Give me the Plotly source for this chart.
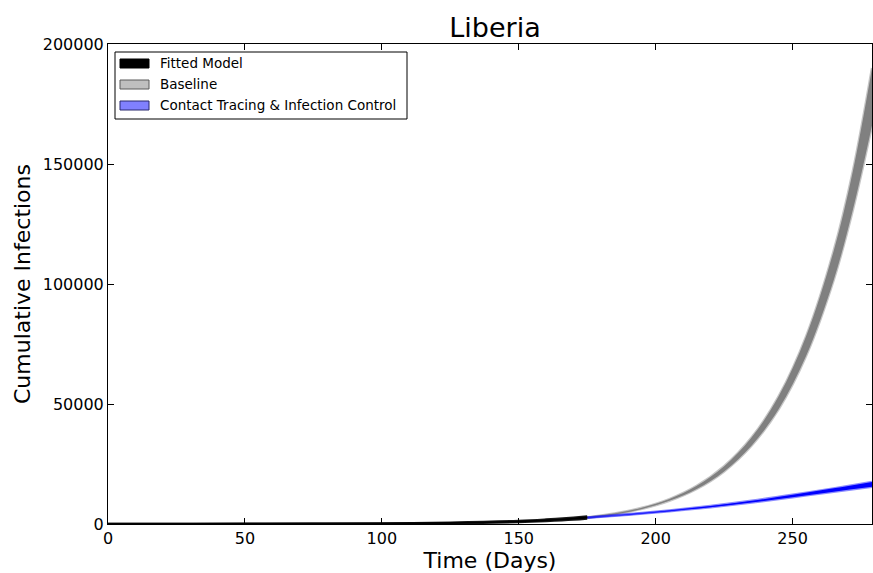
import plotly.graph_objects as go

# ---- data ----
fit_days = [0, 25, 50, 75, 100, 125, 150, 160, 170, 175]
fit_lo = [0, 5, 20, 55, 130, 320, 820, 1250, 1850, 2300]
fit_hi = [10, 25, 55, 115, 240, 540, 1250, 1850, 2650, 3100]

base_days = [175, 185, 195, 205, 215, 225, 235, 245, 255, 265, 272, 279]
base_lo = [2650, 4100, 6300, 9650, 14600, 21900, 32600, 48000, 70200, 101600, 130800, 166000]
base_hi = [2750, 4350, 6750, 10400, 15900, 24100, 36000, 53400, 78400, 113800, 147000, 190000]

ct_days = [175, 190, 205, 220, 235, 250, 265, 279]
ct_lo = [2650, 3900, 5350, 7000, 8950, 11150, 13450, 15500]
ct_hi = [2750, 4100, 5650, 7500, 9650, 12150, 14850, 17500]

x_ticks = [0, 50, 100, 150, 200, 250]
y_ticks = [0, 50000, 100000, 150000, 200000]

legend_names = ["Fitted Model", "Baseline", "Contact Tracing & Infection Control"]
legend_fill = ["rgb(0,0,0)", "rgb(191,191,191)", "rgb(128,128,255)"]
legend_edge = ["rgb(0,0,0)", "rgb(90,90,90)", "rgb(40,40,110)"]

FONT = "DejaVu Sans"

fig = go.Figure()


def add_band(days, lo, hi, core, edge):
    fig.add_trace(go.Scatter(x=days, y=lo, mode="lines", line=dict(color=edge, width=2.5, shape="spline"),
                             showlegend=False, hoverinfo="skip"))
    fig.add_trace(go.Scatter(x=days, y=hi, mode="lines", line=dict(color=edge, width=2.5, shape="spline"),
                             fill="tonexty", fillcolor=core, showlegend=False, hoverinfo="skip"))


add_band(base_days, base_lo, base_hi, "rgb(128,128,128)", "rgba(128,128,128,0.45)")
add_band(ct_days, ct_lo, ct_hi, "rgb(0,0,255)", "rgba(0,0,255,0.45)")
add_band(fit_days, fit_lo, fit_hi, "rgb(0,0,0)", "rgba(0,0,0,0.9)")

# ---- manual legend (matplotlib-like box) ----
PW, PH, L, B = 764.0, 480.0, 108.0, 524.0


def px(xp):
    return (xp - L) / PW


def py(yp):
    return (B - yp) / PH


shapes = [dict(type="rect", xref="paper", yref="paper", x0=px(115), x1=px(407), y0=py(119), y1=py(52),
               line=dict(color="black", width=1), fillcolor="white", layer="above")]
annotations = []
for i, (name, fc, lc) in enumerate(zip(legend_names, legend_fill, legend_edge)):
    yc = 63 + 21 * i
    shapes.append(dict(type="rect", xref="paper", yref="paper", x0=px(120), x1=px(149),
                       y0=py(yc + 5), y1=py(yc - 4), line=dict(color=lc, width=1), fillcolor=fc, layer="above"))
    annotations.append(dict(xref="paper", yref="paper", x=px(158), y=py(yc), text=name, showarrow=False,
                            xanchor="left", yanchor="middle",
                            font=dict(family=FONT, size=13.5, color="black")))

axis_common = dict(
    showline=True, linecolor="black", linewidth=1, mirror="allticks",
    ticks="inside", ticklen=6, tickcolor="black", tickwidth=1,
    showgrid=False, zeroline=False,
    tickfont=dict(family=FONT, size=16, color="black"),
)

fig.update_layout(
    width=873, height=573,
    margin=dict(l=108, r=1, t=44, b=49),
    plot_bgcolor="white", paper_bgcolor="white",
    font=dict(family=FONT, color="black"),
    title=dict(text="Liberia", x=0.5065, xref="paper", xanchor="center",
               y=1 - 28 / 573, yref="container", yanchor="middle",
               font=dict(family=FONT, size=27, color="black")),
    xaxis=dict(range=[0, 279], tickvals=x_ticks,
               title=dict(text="Time (Days)", font=dict(family=FONT, size=22), standoff=6),
               **axis_common),
    yaxis=dict(range=[0, 200000], tickvals=y_ticks, tickformat="d",
               title=dict(text="Cumulative Infections", font=dict(family=FONT, size=22), standoff=6),
               **axis_common),
    shapes=shapes,
    annotations=annotations,
    showlegend=False,
)

fig.write_html("out.html")
